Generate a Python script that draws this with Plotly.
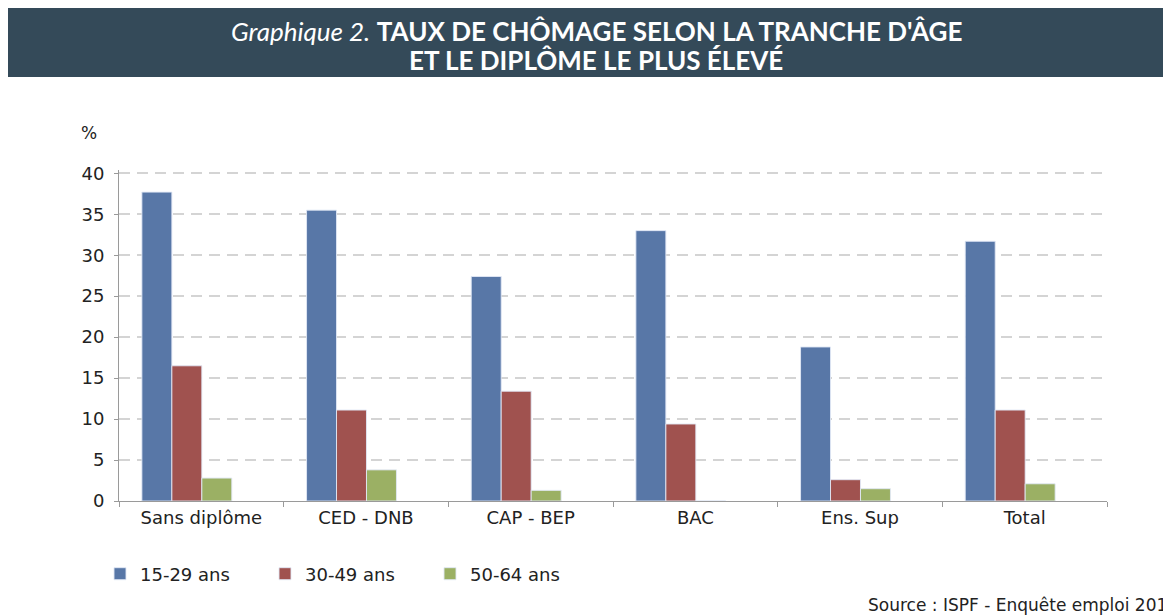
import plotly.graph_objects as go

categories = ["Sans diplôme", "CED - DNB", "CAP - BEP", "BAC", "Ens. Sup", "Total"]
series_names = ["15-29 ans", "30-49 ans", "50-64 ans"]
v_15_29 = [37.7, 35.5, 27.4, 33.0, 18.8, 31.7]
v_30_49 = [16.5, 11.1, 13.4, 9.4, 2.6, 11.1]
v_50_64 = [2.8, 3.8, 1.3, 0.0, 1.5, 2.1]
colors = ["#5877A7", "#A0524F", "#9BB064"]
y_ticks = [0, 5, 10, 15, 20, 25, 30, 35, 40]

# page has an 8px body margin; figure coordinates = page coordinates - 8
OFF = 8
W, H = 1171 - OFF, 615 - OFF
Y_TOP = 40.4
px_per_unit = (501 - 173) / 40.0
L = 119 - OFF
T = round((173 - (Y_TOP - 40) * px_per_unit) - OFF)
R = W - (1107 - OFF)
B = H - (501 - OFF)
pw, ph = W - L - R, H - T - B

def px(page_x):
    return (page_x - OFF - L) / pw

def py(page_y):
    return (H - B - (page_y - OFF)) / ph

bar_w = 0.182
offsets = [-0.361, -0.179, 0.003]

fig = go.Figure()
for name, vals, col, off in zip(series_names, [v_15_29, v_30_49, v_50_64], colors, offsets):
    fig.add_trace(go.Bar(
        x=categories, y=vals, name=name, width=bar_w, offset=off,
        marker=dict(color=col, line=dict(color="rgba(225,232,245,0.9)", width=1)),
    ))

fig.update_layout(
    width=W, height=H,
    margin=dict(l=L, r=R, t=T, b=B, autoexpand=False),
    paper_bgcolor="white", plot_bgcolor="white",
    barmode="overlay",
    font=dict(family="DejaVu Sans", size=18, color="#222222"),
    showlegend=True,
    legend=dict(orientation="h", x=px(100), xanchor="left", y=py(574), yanchor="middle",
                font=dict(size=18, color="#222222"), entrywidth=120, entrywidthmode="pixels",
                itemwidth=30, bgcolor="rgba(0,0,0,0)"),
    xaxis=dict(showline=True, linecolor="#9a9a9a", linewidth=1, ticks="outside",
               tickson="boundaries", ticklen=5, tickcolor="#9a9a9a",
               tickfont=dict(size=18, color="#222222"), showgrid=False),
    yaxis=dict(range=[0, Y_TOP], tickvals=y_ticks, showline=True, linecolor="#9a9a9a", linewidth=1,
               ticks="outside", ticklen=4, tickcolor="#9a9a9a",
               tickfont=dict(size=18, color="#222222"),
               showgrid=True, gridcolor="#d4d4d4", griddash="11px,7px", gridwidth=1.5,
               zeroline=False, ticklabelstandoff=6),
    shapes=[dict(type="rect", xref="paper", yref="paper",
                 x0=px(8), x1=px(1180),
                 y0=py(77), y1=py(8), fillcolor="#344A59", line=dict(width=0), layer="above")],
    annotations=[
        dict(xref="paper", yref="paper", x=px(596), y=py(31), xanchor="center",
             yanchor="middle", showarrow=False,
             text="<i>Graphique 2.</i> <b>TAUX DE CHÔMAGE SELON LA TRANCHE D'ÂGE</b>",
             font=dict(family="Lato", size=26, color="white")),
        dict(xref="paper", yref="paper", x=px(596), y=py(60), xanchor="center",
             yanchor="middle", showarrow=False,
             text="<b>ET LE DIPLÔME LE PLUS ÉLEVÉ</b>",
             font=dict(family="Lato", size=26, color="white")),
        dict(xref="paper", yref="paper", x=px(89), y=py(133), xanchor="center",
             yanchor="middle", showarrow=False, text="%",
             font=dict(size=17, color="#222222")),
        dict(xref="paper", yref="paper", x=px(866), y=py(605), xanchor="left",
             yanchor="middle", showarrow=False, text="Source : ISPF - Enquête emploi 2018",
             font=dict(size=17, color="#222222")),
    ],
)

fig.write_html("out.html")
